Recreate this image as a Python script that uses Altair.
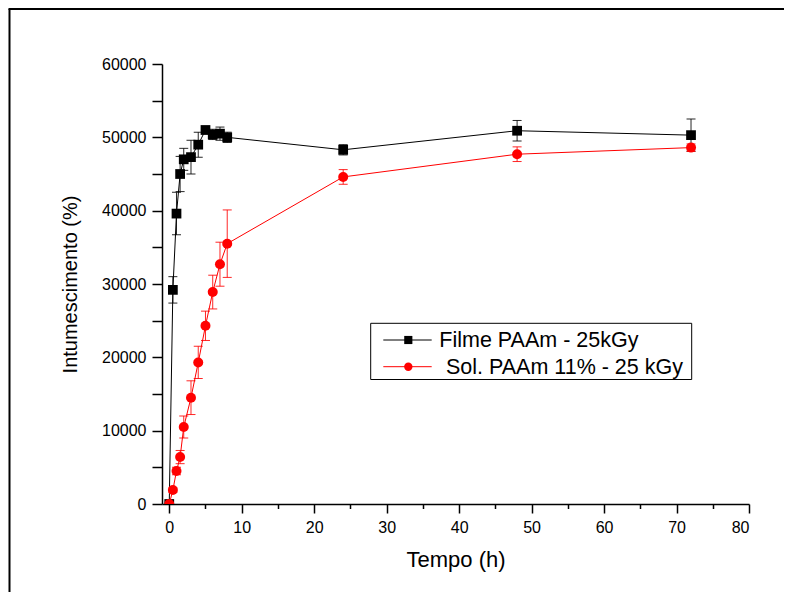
import altair as alt
import pandas as pd

# ---- data ----
time_h = [0, 0.5, 1, 1.5, 2, 3, 4, 5, 6, 7, 8, 24, 48, 72]

film_vals = [0, 29200, 39600, 45000, 47000, 47300, 49000, 51000, 50400, 50500, 50000, 48300, 50900, 50300]
film_err = [0, 1800, 2900, 2400, 1500, 2300, 1700, 500, 700, 900, 700, 700, 1400, 2200]

sol_vals = [0, 1900, 4500, 6400, 10500, 14500, 19300, 24300, 28900, 32700, 35500, 44600, 47700, 48600]
sol_err = [0, 300, 500, 900, 1500, 2300, 2200, 2000, 2300, 3000, 4600, 1000, 1000, 500]

series_names = ["Filme PAAm - 25kGy", "Sol. PAAm 11% - 25 kGy"]
series_colors = ["#000000", "#ff0000"]
series_shapes = ["square", "circle"]
series_sizes = [95, 100]

x_tick_values = [0, 5, 10, 15, 20, 25, 30, 35, 40, 45, 50, 55, 60, 65, 70, 75, 80]
y_tick_values = [0, 5000, 10000, 15000, 20000, 25000, 30000, 35000, 40000, 45000, 50000, 55000, 60000]

x_title = "Tempo (h)"
y_title = "Intumescimento (%)"

FONT = "Liberation Sans"

series_vals = [film_vals, sol_vals]
series_errs = [film_err, sol_err]

x_scale = alt.Scale(domain=[-1, 80], nice=False, zero=False)
y_scale = alt.Scale(domain=[0, 60000], nice=False)

x_axis = alt.Axis(
    values=x_tick_values,
    labelExpr="datum.value % 10 === 0 ? datum.label : ''",
    format="d",
    tickSize={"condition": {"test": "datum.value % 10 !== 0", "value": 4.5}, "value": 9},
    labelPadding=6,
    title=x_title,
    titleFontSize=22,
    titleY=62,
    titleBaseline="alphabetic",
)
y_axis = alt.Axis(
    values=y_tick_values,
    labelExpr="datum.value % 10000 === 0 ? datum.label : ''",
    format="d",
    tickSize=10,
    labelPadding=6,
    title=y_title,
    titleFontSize=20,
    titleX=-92,
    titleY=220,
    titleAngle=270,
    titleAlign="center",
    titleBaseline="middle",
)


def X():
    return alt.X("t:Q", scale=x_scale, axis=x_axis)


def Y(field):
    return alt.Y(f"{field}:Q", scale=y_scale, axis=y_axis)


layers = []
for i, name in enumerate(series_names):
    df = pd.DataFrame({
        "t": time_h,
        "v": series_vals[i],
        "err": series_errs[i],
    })
    df["lo"] = df["v"] - df["err"]
    df["hi"] = df["v"] + df["err"]
    col = series_colors[i]
    base = alt.Chart(df)
    line = base.mark_line(color=col, strokeWidth=1, clip=True).encode(x=X(), y=Y("v"))
    eb = base.transform_filter("datum.err > 0")
    stem = eb.mark_rule(color=col, strokeWidth=1, opacity=0.85).encode(
        x=X(), y=Y("lo"), y2="hi:Q")
    cap_lo = eb.mark_tick(color=col, orient="horizontal", size=9, thickness=1, opacity=0.85).encode(
        x=X(), y=Y("lo"))
    cap_hi = eb.mark_tick(color=col, orient="horizontal", size=9, thickness=1, opacity=0.85).encode(
        x=X(), y=Y("hi"))
    pts = base.mark_point(shape=series_shapes[i], filled=True, color=col, opacity=1,
                          size=series_sizes[i], clip=True).encode(x=X(), y=Y("v"))
    layers += [line, stem, cap_lo, cap_hi, pts]

# ---- manual legend (box + entries), placed in plot-pixel coordinates ----
one = alt.Data(values=[{"k": 0}])
legend_box = alt.Chart(one).mark_rect(fill="white", stroke="black", strokeWidth=1).encode(
    x=alt.value(208.7), x2=alt.value(529.7), y=alt.value(259.3), y2=alt.value(315.5))
layers.append(legend_box)

entry_y = [276, 302.7]
text_x = [277.3, 284]
for i, name in enumerate(series_names):
    d = alt.Data(values=[{"name": name}])
    col = series_colors[i]
    ln = alt.Chart(d).mark_rule(color=col, strokeWidth=1).encode(
        x=alt.value(221.3), x2=alt.value(269.7), y=alt.value(entry_y[i]))
    mk = alt.Chart(d).mark_point(shape=series_shapes[i], filled=True, color=col, opacity=1,
                                 size=series_sizes[i] * 0.7).encode(
        x=alt.value(246.3), y=alt.value(entry_y[i]))
    tx = alt.Chart(d).mark_text(align="left", baseline="alphabetic", font=FONT, fontSize=21.5,
                                color="black").encode(
        x=alt.value(text_x[i]), y=alt.value(entry_y[i] + 7), text="name:N")
    layers += [ln, mk, tx]

# ---- outer frame of the figure ----
frame_left = alt.Chart(one).mark_rule(color="black", strokeWidth=2).encode(
    x=alt.value(-152.5), y=alt.value(-55), y2=alt.value(560))
frame_top = alt.Chart(one).mark_rule(color="black", strokeWidth=2).encode(
    x=alt.value(-153.5), x2=alt.value(640), y=alt.value(-55))
layers += [frame_left, frame_top]

chart = alt.layer(*layers).properties(
    width=587,
    height=440,
    autosize=alt.AutoSizeParams(type="none"),
    padding={"left": 154, "top": 56, "right": 35, "bottom": 88},
    background="white",
).configure_view(stroke=None).configure_axis(
    grid=False,
    domainColor="black",
    domainWidth=1.5,
    tickColor="black",
    tickWidth=1.5,
    labelColor="black",
    labelFont=FONT,
    labelFontSize=16,
    titleFont=FONT,
    titleFontWeight="normal",
    titleColor="black",
)

chart.save("out.html", embed_options={"renderer": "svg", "actions": False})
